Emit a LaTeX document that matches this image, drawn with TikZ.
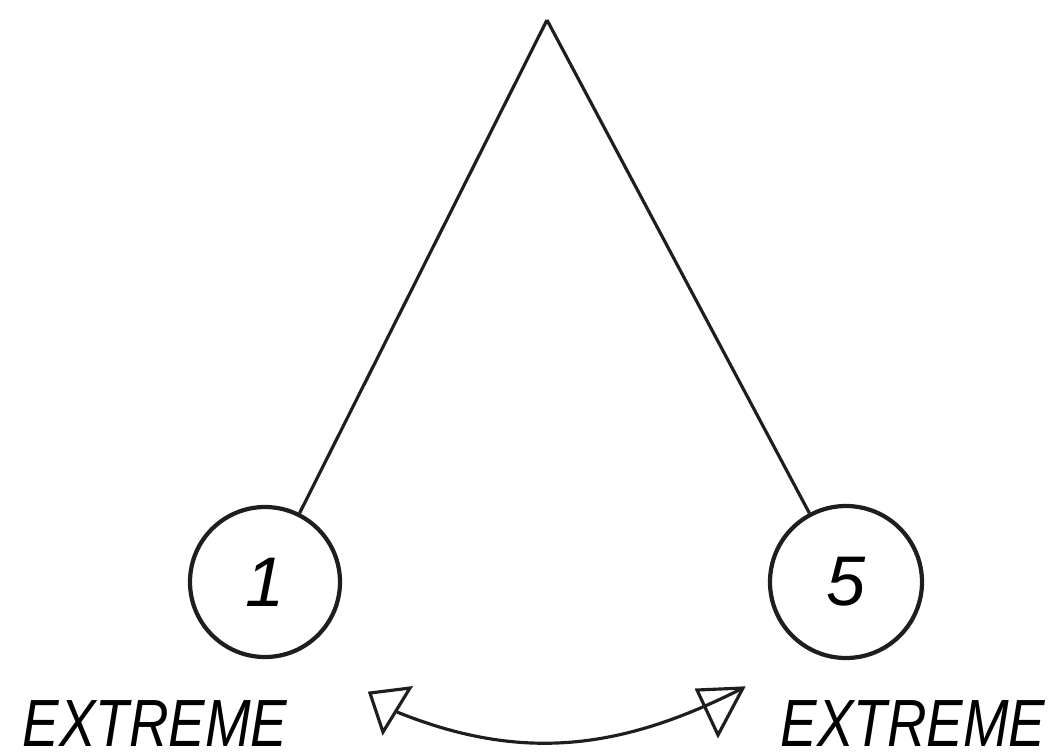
\documentclass[tikz,border=0pt]{standalone}
\usepackage{fontspec}
\setsansfont{Liberation Sans}
\usepackage{tikz}
\usetikzlibrary{calc,positioning}
\definecolor{ink}{RGB}{30,30,30}

\begin{document}
\begin{tikzpicture}[
    ball/.style={draw=ink, circle, line width=1.2pt, minimum size=1.5cm, inner sep=0pt,
      font=\sffamily\itshape\fontsize{20}{24}\selectfont},
    extlabel/.style={anchor=base west, inner sep=0pt, xscale=0.82,
      font=\sffamily\itshape\fontsize{19}{23}\selectfont},
    string/.style={draw=ink, line width=0.9pt}
  ]
  \useasboundingbox (0,0) rectangle (10.62,7.55);

  % Pendulum
  \coordinate (pivot) at (5.47,7.35);
  \node[ball] (ball1) at (2.65,1.73) {1};
  \node[ball, minimum size=1.52cm] (ball5) at (8.46,1.73) {5};
  \draw[string] (pivot) -- (ball1);
  \draw[string] (pivot) -- (ball5);

  % Labels
  \node[extlabel] (extl) at (0.22,0.09) {EXTREME};
  \node[extlabel] (extr) at (7.80,0.09) {EXTREME};

  % Swing arrow
  \coordinate (arcl) at (3.97,0.43);
  \coordinate (arcr) at (7.43,0.67);
  \draw[string] (3.70,0.62) -- (4.10,0.67) -- (3.83,0.23) -- cycle;
  \draw[string] (6.97,0.65) -- (arcr) -- (7.18,0.20) -- cycle;
  \draw[string] (arcl) to[out=-22, in=207] (arcr);
\end{tikzpicture}
\end{document}
